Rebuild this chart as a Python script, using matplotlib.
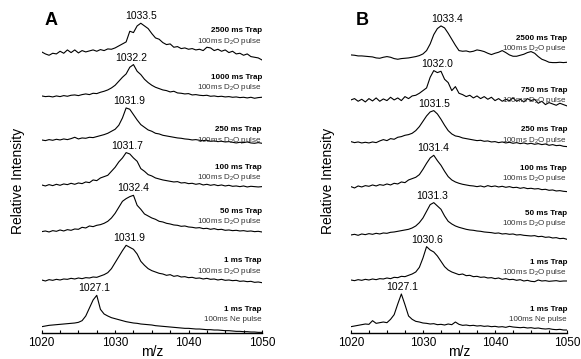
import numpy as np
import matplotlib.pyplot as plt
from matplotlib.ticker import MultipleLocator

plt.rcParams['font.family'] = ['Liberation Sans', 'DejaVu Sans']
plt.rcParams['mathtext.fontset'] = 'custom'
plt.rcParams['mathtext.rm'] = 'Liberation Sans'
plt.rcParams['mathtext.default'] = 'regular'

# m/z grid shared by every spectrum
mz = np.arange(1020, 1050.25, 0.5)

# Panel A spectra (relative intensity, bottom to top)
a_ne = [4, 6, 8, 9, 10, 11, 12, 13, 14, 15,
        17, 22, 36, 60, 84, 98, 56, 42, 36, 31,
        28, 25, 22, 19, 17, 15, 14, 12, 11, 10,
        9, 7, 6, 5, 4, 3, 2, 1, 0, -1,
        -1, -2, -3, -3, -4, -5, -5, -6, -6, -7,
        -8, -8, -9, -10, -10, -11, -11, -12, -12, -13,
        -13]
a_1 = [6, 3, 7, 5, 8, 6, 9, 8, 11, 9,
       12, 10, 13, 12, 15, 14, 18, 22, 28, 40,
       58, 76, 94, 110, 104, 98, 84, 62, 50, 40,
       34, 30, 26, 24, 20, 22, 17, 19, 15, 16,
       13, 14, 11, 12, 9, 11, 8, 9, 6, 8,
       5, 6, 4, 5, 2, 3, 1, 2, -1, 0,
       -2]
a_50 = [13, 15, 12, 16, 14, 18, 15, 19, 17, 21,
        20, 26, 24, 30, 28, 32, 34, 38, 44, 54,
        68, 86, 104, 112, 118, 122, 92, 80, 66, 60,
        54, 50, 44, 42, 38, 36, 33, 32, 29, 30,
        27, 26, 24, 25, 22, 23, 20, 22, 19, 20,
        17, 18, 16, 17, 15, 16, 14, 15, 13, 14,
        12]
a_100 = [15, 12, 16, 13, 17, 14, 18, 16, 20, 17,
         21, 19, 24, 22, 30, 28, 36, 40, 44, 56,
         68, 84, 96, 112, 108, 96, 86, 64, 56, 46,
         42, 36, 33, 30, 28, 26, 24, 25, 21, 22,
         19, 20, 17, 19, 15, 17, 14, 16, 13, 15,
         12, 14, 11, 12, 10, 12, 9, 11, 10, 9,
         10]
a_250 = [12, 10, 13, 11, 14, 12, 15, 13, 16, 20,
         15, 18, 17, 20, 19, 22, 25, 28, 32, 38,
         44, 56, 78, 108, 104, 88, 72, 58, 50, 42,
         38, 32, 30, 26, 24, 22, 20, 18, 17, 15,
         14, 12, 13, 11, 10, 11, 8, 9, 7, 8,
         6, 7, 5, 3, 5, 4, 6, 3, 2, 4,
         2]
a_1000 = [6, 4, 5, 3, 6, 4, 7, 5, 8, 9,
          7, 10, 12, 10, 14, 13, 17, 20, 24, 30,
          38, 50, 62, 72, 92, 100, 80, 70, 56, 46,
          38, 32, 28, 24, 22, 18, 20, 15, 14, 12,
          13, 9, 10, 8, 7, 8, 5, 6, 4, 5,
          3, 4, 2, 3, 1, 2, 0, 2, -1, 1,
          2]
a_2500 = [0, -6, -10, -4, -6, 2, -4, 6, -2, 6,
          -3, 4, 0, 3, 6, 2, 7, 4, 9, 8,
          12, 18, 24, 30, 62, 58, 78, 86, 78, 70,
          55, 42, 38, 28, 22, 24, 14, 16, 10, 12,
          8, 10, 6, 8, 4, 14, 12, 4, 8, 2,
          6, -2, 2, -6, -4, -10, -6, -14, -16, -18,
          -24]

# Panel B spectra (relative intensity, bottom to top)
b_ne = [4, 6, 8, 10, 12, 11, 22, 14, 16, 18,
        16, 26, 40, 72, 102, 70, 36, 26, 20, 18,
        15, 14, 12, 13, 10, 11, 9, 12, 10, 18,
        11, 8, 9, 7, 8, 6, 7, 5, 6, 4,
        5, 3, 4, 2, 5, 3, 2, 1, 2, 0,
        1, -1, 0, -2, -3, -2, -4, -5, -4, -6,
        -6]
b_1 = [6, 4, 7, 5, 8, 6, 9, 7, 10, 9,
       12, 10, 14, 13, 17, 16, 20, 24, 30, 44,
       72, 106, 96, 90, 78, 62, 46, 36, 30, 26,
       22, 24, 19, 20, 16, 17, 14, 15, 12, 13,
       10, 12, 8, 10, 7, 8, 5, 7, 3, 5,
       2, 1, 6, 3, 4, 2, 3, 4, 2, 3,
       3]
b_50 = [3, 5, 2, 6, 4, 7, 5, 8, 6, 9,
        8, 11, 12, 14, 16, 18, 20, 24, 30, 40,
        54, 74, 94, 100, 90, 80, 60, 44, 36, 30,
        26, 23, 20, 18, 17, 15, 14, 12, 11, 10,
        8, 9, 6, 7, 5, 6, 3, 4, 2, 1,
        0, 1, -2, -1, -4, -3, -6, -5, -8, -7,
        -10]
b_100 = [10, 6, 12, 9, 13, 11, 15, 12, 16, 14,
         18, 15, 20, 18, 24, 22, 30, 34, 38, 46,
         62, 80, 96, 104, 88, 74, 56, 40, 30, 24,
         20, 17, 15, 13, 12, 10, 12, 9, 13, 10,
         12, 9, 11, 8, 10, 7, 8, 5, 7, 4,
         5, 3, 4, 1, 2, -1, 0, -3, -2, -4,
         -5]
b_250 = [7, 4, 6, 3, 5, 3, 6, 4, 9, 13,
         10, 16, 14, 20, 22, 26, 28, 32, 40, 52,
         68, 84, 96, 100, 90, 74, 56, 40, 30, 24,
         22, 18, 16, 14, 12, 10, 11, 8, 9, 6,
         7, 4, 6, 3, 5, 2, 4, 1, 3, 0,
         2, -1, 1, -2, 0, -4, -2, -5, -4, -7,
         -8]
b_750 = [-6, -2, -10, -4, -12, -2, -9, 0, -10, -3,
         -8, 2, -6, 0, -8, 4, -2, 6, 8, 14,
         22, 30, 62, 82, 76, 80, 56, 46, 22, 34,
         14, 10, 4, 8, 0, 6, -2, 4, -4, 2,
         -8, -2, -10, -4, -8, 0, -10, -4, -12, -2,
         -8, -4, -16, -10, -20, -14, -18, -22, -16, -20,
         -24]
b_2500 = [-9, -10, -12, -12, -13, -14, -15, -18, -19, -16,
          -14, -16, -20, -22, -20, -19, -18, -16, -14, -11,
          -6, 4, 24, 52, 70, 78, 72, 56, 38, 20,
          4, 2, 3, 0, 2, 6, 4, 1, -4, -8,
          -4, -1, 4, -2, -9, -13, -13, -10, -7, -2,
          1, -4, -14, -22, -26, -31, -32, -32, -31, -32,
          -31]

a_peaks = [1027.1, 1031.9, 1032.4, 1031.7, 1031.9, 1032.2, 1033.5]
b_peaks = [1027.1, 1030.6, 1031.3, 1031.4, 1031.5, 1032.0, 1033.4]
a_traps = ['1 ms Trap', '1 ms Trap', '50 ms Trap', '100 ms Trap',
           '250 ms Trap', '1000 ms Trap', '2500 ms Trap']
b_traps = ['1 ms Trap', '1 ms Trap', '50 ms Trap', '100 ms Trap',
           '250 ms Trap', '750 ms Trap', '2500 ms Trap']
pulses = ['100ms Ne pulse'] + ['100ms D$_2$O pulse'] * 6

fig = plt.figure(figsize=(5.81, 3.59), dpi=100)

panels = [
    ('A', [0.0718, 0.0724, 0.379, 0.9],
     [a_ne, a_1, a_50, a_100, a_250, a_1000, a_2500], a_peaks, a_traps,
     [56, 201, 349, 481, 594, 751, 891], 0.077),
    ('B', [0.604, 0.0724, 0.372, 0.9],
     [b_ne, b_1, b_50, b_100, b_250, b_750, b_2500], b_peaks, b_traps,
     [56, 196, 344, 479, 594, 712, 869], 0.613),
]

step = 138
for letter, rect, traces, peaks, traps, label_y, letter_x in panels:
    ax = fig.add_axes(rect)
    for i, tr in enumerate(traces):
        off = i * step
        y = np.array(tr) + off
        ax.plot(mz, y, color='black', lw=0.8)
        ax.text(peaks[i], off + max(tr) + 6, f'{peaks[i]:.1f}',
                ha='center', va='bottom', fontsize=7.5)
        ax.text(1050, label_y[i], traps[i], ha='right', va='center',
                fontsize=5.8, fontweight='bold')
        ax.text(1050, label_y[i] - 31, pulses[i], ha='right', va='center',
                fontsize=5.8, color='#333333')
    ax.set_xlim(1020, 1050)
    ax.set_ylim(-15, 954)
    for s in ['left', 'top', 'right']:
        ax.spines[s].set_visible(False)
    ax.spines['bottom'].set_linewidth(1.0)
    ax.set_yticks([])
    ax.xaxis.set_major_locator(MultipleLocator(10))
    ax.xaxis.set_minor_locator(MultipleLocator(2.5))
    ax.tick_params(axis='x', which='both', direction='in', length=2.5,
                   width=0.8, labelsize=8.5, pad=3)
    ax.set_xlabel('m/z', fontsize=10, labelpad=-3)
    ax.set_ylabel('Relative Intensity', fontsize=10)
    ax.yaxis.set_label_coords(-0.075, 0.47)
    fig.text(letter_x, 1 - 12 / 359, letter, fontsize=13, fontweight='bold',
             va='top', ha='left')

fig.savefig('out.png', dpi=100)
